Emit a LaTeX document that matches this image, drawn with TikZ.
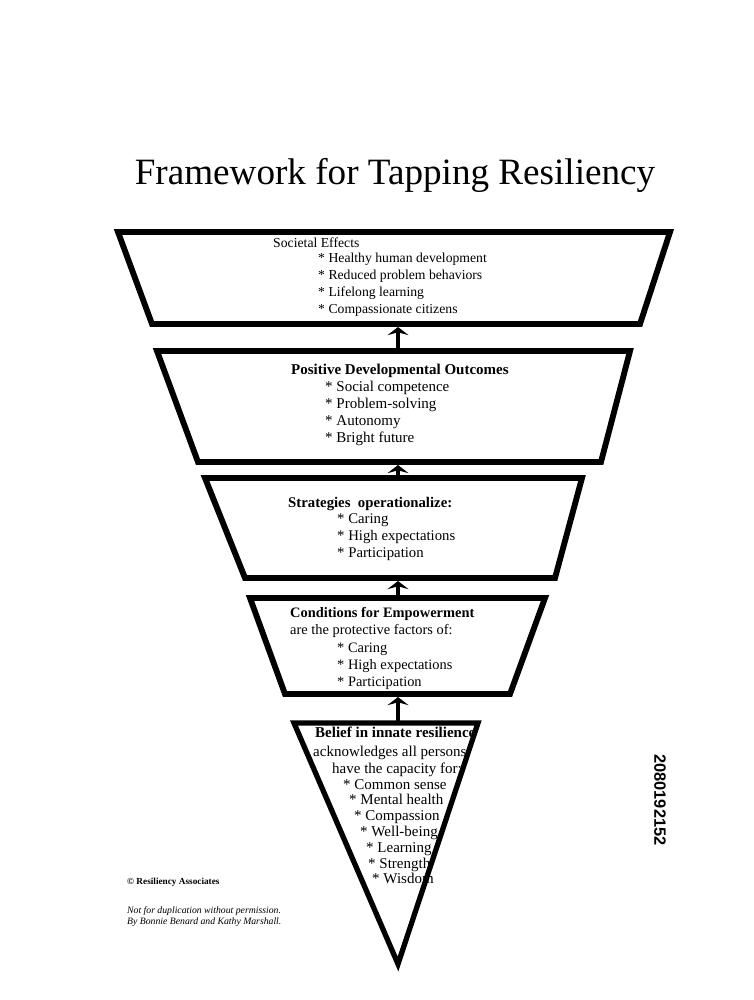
\documentclass[tikz,border=0pt]{standalone}
\usepackage{fontspec}
\setmainfont{Liberation Serif}
\newfontfamily\numfont{Liberation Sans}
\usetikzlibrary{arrows.meta}
\begin{document}
\begin{tikzpicture}[x=0.03cm, y=-0.03cm,
    frame/.style={line width=5pt, line join=miter},
    uparrow/.style={line width=4pt, -{Stealth[length=7pt,width=18pt,inset=2.5pt]}},
    txt/.style={anchor=base west, inner sep=0pt},
    note/.style={anchor=base west, inner sep=0pt, font=\fontsize{8.3}{9}\selectfont\itshape}]
\useasboundingbox (0,0) rectangle (754,1000);

\node[anchor=base, font=\fontsize{31.7}{36}\selectfont] (title) at (395,184) {Framework for Tapping Resiliency};

\draw[frame] (118,232) -- (670,232) -- (640,324) -- (152,324) -- cycle;
\coordinate (se-bot) at (398,327);
\begin{scope}[every node/.style={txt, font=\fontsize{11.7}{14}\selectfont}]
\node (se0) at (273,247) {Societal Effects};
\foreach \t [count=\i] in {Healthy human development, Reduced problem behaviors, Lifelong learning, Compassionate citizens}
    \node (se\i) at (318,245+17*\i) {* \t};
\end{scope}

\draw[frame] (157,351) -- (630,351) -- (601,462) -- (198,462) -- cycle;
\coordinate (pd-top) at (398,349);
\coordinate (pd-bot) at (398,465);
\begin{scope}[every node/.style={txt, font=\fontsize{12.8}{14}\selectfont}]
\node[font=\fontsize{12.8}{14}\selectfont\bfseries] (pd0) at (291,374) {Positive Developmental Outcomes};
\foreach \t [count=\i] in {Social competence, Problem-solving, Autonomy, Bright future}
    \node (pd\i) at (325,374+17*\i) {* \t};
\end{scope}

\draw[frame] (205,478) -- (582,478) -- (555,578) -- (245,578) -- cycle;
\coordinate (st-top) at (398,476);
\coordinate (st-bot) at (398,581);
\begin{scope}[every node/.style={txt, font=\fontsize{12.6}{14}\selectfont}]
\node[font=\fontsize{12.6}{14}\selectfont\bfseries] (st0) at (288,507) {Strategies\ \ operationalize:};
\foreach \t [count=\i] in {Caring, High expectations, Participation}
    \node (st\i) at (337,506+17*\i) {* \t};
\end{scope}

\draw[frame] (250,598) -- (545,598) -- (510,694) -- (285,694) -- cycle;
\coordinate (ce-top) at (398,596);
\coordinate (ce-bot) at (398,697);
\begin{scope}[every node/.style={txt, font=\fontsize{12.3}{14}\selectfont}]
\node[font=\fontsize{12.3}{14}\selectfont\bfseries] (ce0) at (290,617) {Conditions for Empowerment};
\node (ce00) at (290,634) {are the protective factors of:};
\foreach \t [count=\i] in {Caring, High expectations, Participation}
    \node (ce\i) at (337,635+17*\i) {* \t};
\end{scope}

\draw[line width=4.5pt, line join=miter] (294,723) -- (478,723) -- (398,964) -- cycle;
\coordinate (bi-top) at (398,721);
\begin{scope}[every node/.style={txt, font=\fontsize{12.8}{14}\selectfont}]
\node[font=\fontsize{12.8}{14}\selectfont\bfseries] (bi0) at (315,737) {Belief in innate resilience};
\node (bi00) at (313,756) {acknowledges all persons'};
\node (bi000) at (332,773) {have the capacity for:};
\foreach \x/\t [count=\i] in {343/Common sense, 349/Mental health, 354/Compassion, 360/Well-being, 366/Learning, 368/Strength, 372/Wisdom}
    \node (bi\i) at (\x,773.2+15.8*\i) {* \t};
\end{scope}

\draw[uparrow] (pd-top) -- (se-bot);
\draw[uparrow] (st-top) -- (pd-bot);
\draw[uparrow] (ce-top) -- (st-bot);
\draw[uparrow] (bi-top) -- (ce-bot);

\node[note, font=\fontsize{7.9}{9}\selectfont\bfseries] (copy) at (127,884) {\textcopyright\ Resiliency Associates};
\node[note] (dup) at (127,913) {Not for duplication without permission.};
\node[note] (auth) at (127,924) {By Bonnie Benard and Kathy Marshall.};

\node[rotate=-90, font=\numfont\bfseries\fontsize{14}{16}\selectfont] (docid) at (660,800) {2080192152};
\end{tikzpicture}
\end{document}
